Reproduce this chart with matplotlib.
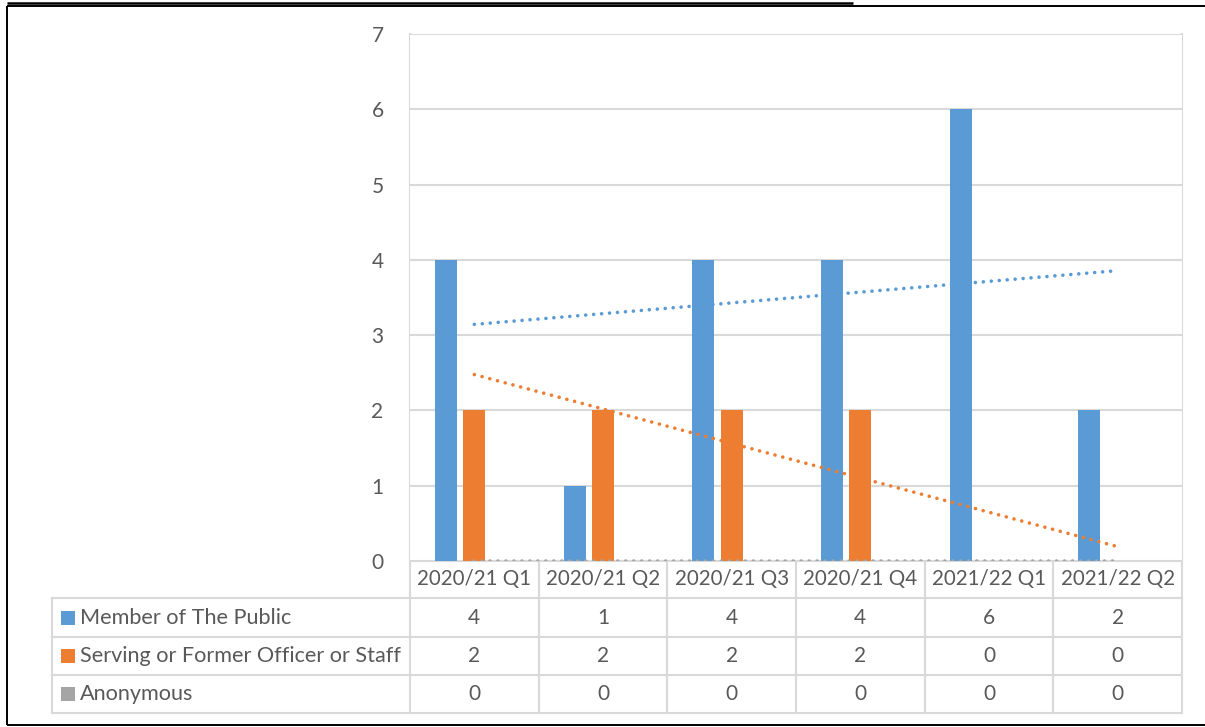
import numpy as np
import matplotlib.pyplot as plt

plt.rcParams['font.family'] = ['Lato', 'DejaVu Sans']

quarters = ['2020/21 Q1', '2020/21 Q2', '2020/21 Q3', '2020/21 Q4', '2021/22 Q1', '2021/22 Q2']
series_names = ['Member of The Public', 'Serving or Former Officer or Staff', 'Anonymous']
public = [4, 1, 4, 4, 6, 2]
officer = [2, 2, 2, 2, 0, 0]
anonymous = [0, 0, 0, 0, 0, 0]
colors = ['#5B9BD5', '#ED7D31', '#A5A5A5']

TEXT = '#595959'
GRID = '#D9D9D9'
W, H = 1205, 727

# pixel layout of the chart and its data table
PLOT_L, PLOT_R = 410, 1182
PLOT_T, PLOT_B = 34, 561
rows_y = [561, 598, 637, 675, 713]
LEGEND_L = 52

fig = plt.figure(figsize=(W / 100, H / 100), dpi=100)
ax = fig.add_axes([PLOT_L / W, 1 - PLOT_B / H, (PLOT_R - PLOT_L) / W, (PLOT_B - PLOT_T) / H])

series = [public, officer, anonymous]
n = len(quarters)
x = np.arange(n) + 0.5
offset, width = 0.22, 0.172
for k, (vals, c) in enumerate(zip(series, colors)):
    ax.bar(x + (k - 1) * offset, vals, width=width, color=c, zorder=2)

# linear trendlines for each series
for vals, c in zip(series, colors):
    slope, icpt = np.polyfit(x, vals, 1)
    ax.plot([x[0], x[-1]], [slope * x[0] + icpt, slope * x[-1] + icpt], color=c,
            lw=2.6, linestyle=(0, (0.01, 2.2)), dash_capstyle='round', zorder=3)

ax.set_xlim(0, n)
ax.set_ylim(0, 7)
ax.set_yticks(range(8))
ax.set_xticks([])
ax.tick_params(axis='y', length=0, pad=19, labelsize=15, labelcolor=TEXT)
for s in ax.spines.values():
    s.set_visible(False)
ax.grid(axis='y', color=GRID, lw=1.5, zorder=0)
ax.set_axisbelow(True)

# overlay in pixel coordinates for the data table and page border
ov = fig.add_axes([0, 0, 1, 1], zorder=-1)
ov.set_xlim(0, W)
ov.set_ylim(H, 0)
ov.axis('off')

col_w = (PLOT_R - PLOT_L) / n
for i in range(n + 1):
    xc = PLOT_L + i * col_w
    top = PLOT_T if i in (0, n) else rows_y[0]
    ov.plot([xc, xc], [top, rows_y[-1]], color=GRID, lw=1.5)
ov.plot([PLOT_L, PLOT_R], [rows_y[0], rows_y[0]], color=GRID, lw=1.5)
for yy in rows_y[1:]:
    ov.plot([LEGEND_L, PLOT_R], [yy, yy], color=GRID, lw=1.5)
ov.plot([LEGEND_L, LEGEND_L], [rows_y[1], rows_y[-1]], color=GRID, lw=1.5)

for i, q in enumerate(quarters):
    cx = PLOT_L + (i + 0.5) * col_w
    ov.text(cx, (rows_y[0] + rows_y[1]) / 2, q, ha='center', va='center', fontsize=14.8, color=TEXT)
    for r, vals in enumerate(series):
        ov.text(cx, (rows_y[r + 1] + rows_y[r + 2]) / 2, str(vals[i]), ha='center', va='center',
                fontsize=15, color=TEXT)

for r, (name, c) in enumerate(zip(series_names, colors)):
    cy = (rows_y[r + 1] + rows_y[r + 2]) / 2
    ov.add_patch(plt.Rectangle((61, cy - 7), 14, 14, color=c, lw=0))
    ov.text(80, cy, name, ha='left', va='center', fontsize=15.6, color=TEXT)

# page frame and heading underline
ov.plot([7, 853], [2.5, 2.5], color='black', lw=1.8, solid_capstyle='butt')
ov.plot([7, W], [5.5, 5.5], color='black', lw=1.4, solid_capstyle='butt')
ov.plot([7, 7], [5.5, 725], color='black', lw=1.4, solid_capstyle='butt')
ov.plot([7, W], [725, 725], color='black', lw=1.4, solid_capstyle='butt')

fig.savefig('out.png', dpi=100)
